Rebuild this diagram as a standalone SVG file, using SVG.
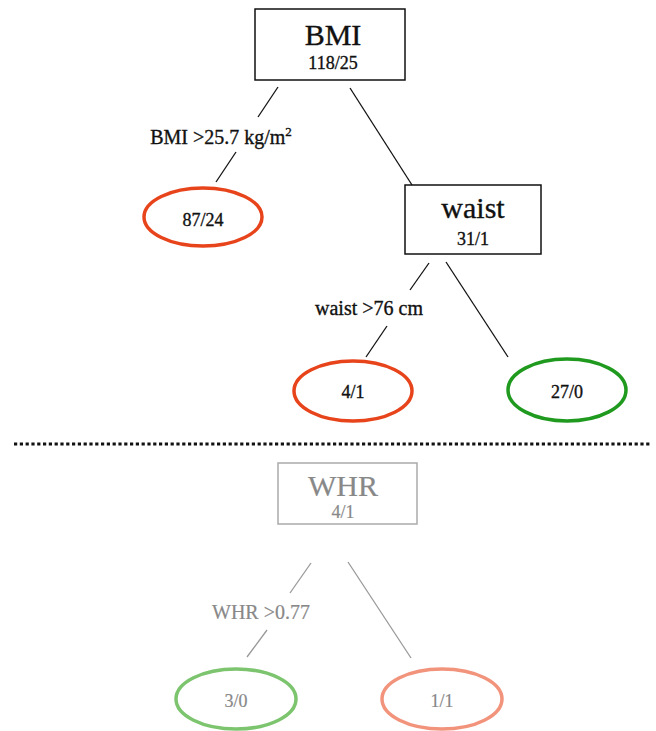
<svg xmlns="http://www.w3.org/2000/svg" width="656" height="731" viewBox="0 0 656 731">
<style>
text{font-family:"Liberation Serif","Times New Roman",serif;text-anchor:middle;fill:#111;stroke:#111;stroke-width:0.35}
.title{font-size:30px}
.num{font-size:18px}
.lbl{font-size:20px}
.box{fill:#fff;stroke:#111;stroke-width:1.5}
.gbox{fill:#fff;stroke:#aaa;stroke-width:1.5}
.edge{stroke:#111;stroke-width:1.3;fill:none}
.gedge{stroke:#999;stroke-width:1.3;fill:none}
.g text,text.gt{fill:#888;stroke:#888;stroke-width:0.2}
.red{fill:#fff;stroke:#e8441c;stroke-width:3.5}
.green{fill:#fff;stroke:#1f9a1f;stroke-width:3.5}
.lgreen{fill:#fff;stroke:#7cc46e;stroke-width:3.5}
.salmon{fill:#fff;stroke:#f2937c;stroke-width:3.5}
</style>
<rect width="656" height="731" fill="#fff"/>
<g id="connectors">
<line class="edge" x1="278" y1="87" x2="258" y2="117"/>
<line class="edge" x1="236" y1="152" x2="216" y2="182"/>
<line class="edge" x1="350" y1="88" x2="412" y2="185"/>
<line class="edge" x1="429" y1="263" x2="410" y2="290"/>
<line class="edge" x1="387" y1="326" x2="366" y2="357"/>
<line class="edge" x1="446" y1="262" x2="508" y2="357"/>
<line class="gedge" x1="311" y1="563" x2="290" y2="593"/>
<line class="gedge" x1="267" y1="630" x2="247" y2="657"/>
<line class="gedge" x1="348" y1="562" x2="411" y2="658"/>
</g>
<g id="edge-labels">
<text class="lbl" x="221" y="144">BMI &gt;25.7 kg/m<tspan font-size="13" dy="-8">2</tspan></text>
<text class="lbl" x="369" y="315">waist &gt;76 cm</text>
<text class="lbl gt" x="261" y="619">WHR &gt;0.77</text>
</g>
<g id="separator">
<line x1="14" y1="444" x2="652" y2="444" stroke="#111" stroke-width="3.2" stroke-dasharray="3.2 2.6"/>
</g>
<g id="node-bmi">
<rect class="box" x="255" y="9" width="150" height="71"/>
<text class="title" x="333" y="45">BMI</text>
<text class="num" x="333" y="69">118/25</text>
</g>
<g id="node-8724">
<ellipse class="red" cx="203" cy="217" rx="59" ry="29"/>
<text class="num" x="203" y="226">87/24</text>
</g>
<g id="node-waist">
<rect class="box" x="405" y="185" width="136" height="69"/>
<text class="title" x="473" y="218">waist</text>
<text class="num" x="473" y="245">31/1</text>
</g>
<g id="node-41">
<ellipse class="red" cx="353" cy="391" rx="59" ry="30"/>
<text class="num" x="353" y="398">4/1</text>
</g>
<g id="node-270">
<ellipse class="green" cx="567" cy="390" rx="59" ry="31"/>
<text class="num" x="567" y="398">27/0</text>
</g>
<g id="node-whr" class="g">
<rect class="gbox" x="278" y="463" width="139" height="61"/>
<text class="title" x="343" y="496">WHR</text>
<text class="num" x="343" y="518">4/1</text>
</g>
<g id="node-30" class="g">
<ellipse class="lgreen" cx="236" cy="699" rx="60" ry="30"/>
<text class="num" x="236" y="707">3/0</text>
</g>
<g id="node-11" class="g">
<ellipse class="salmon" cx="442" cy="699" rx="60" ry="30"/>
<text class="num" x="442" y="707">1/1</text>
</g>
</svg>
